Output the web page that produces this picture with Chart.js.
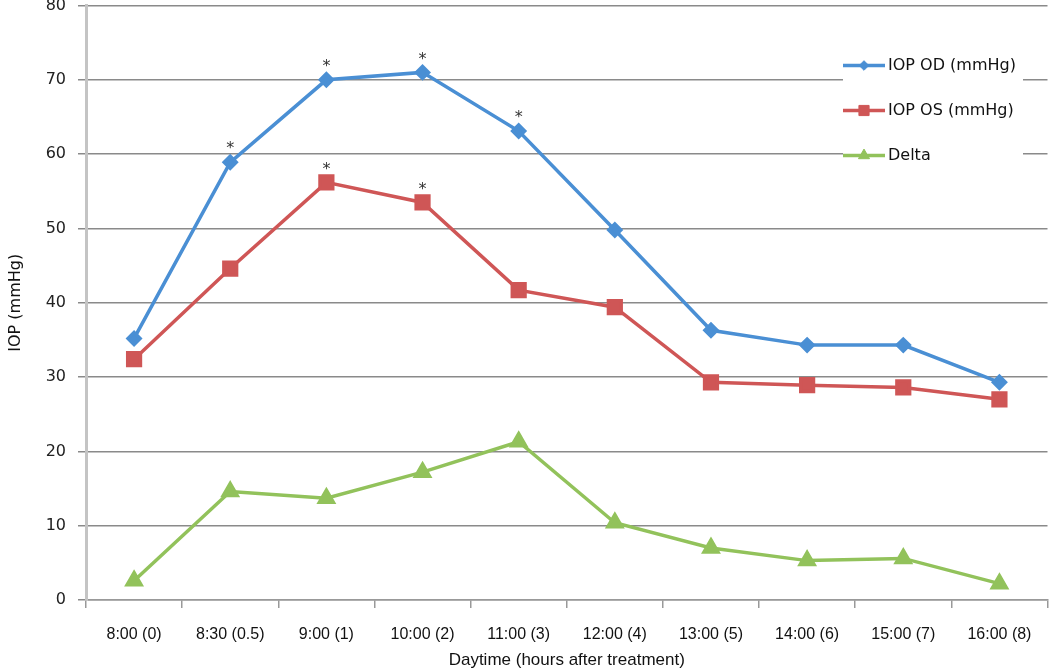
<!DOCTYPE html>
<html>
<head>
<meta charset="utf-8">
<script src="https://cdn.jsdelivr.net/npm/chart.js@4.4.0/dist/chart.umd.min.js"></script>
<style>
  html, body { margin: 0; padding: 0; background: #fff; overflow: hidden; }
  #wrap { width: 1060px; height: 678px; margin-top: -7px; }
</style>
</head>
<body>
<div id="wrap"><canvas id="iopChart"></canvas></div>
<script>
// data
const labels = ["8:00 (0)", "8:30 (0.5)", "9:00 (1)", "10:00 (2)", "11:00 (3)", "12:00 (4)", "13:00 (5)", "14:00 (6)", "15:00 (7)", "16:00 (8)"];
const iopOD = [35.2, 58.9, 70.0, 71.0, 63.1, 49.8, 36.3, 34.3, 34.3, 29.3];
const iopOS = [32.4, 44.6, 56.2, 53.5, 41.7, 39.4, 29.3, 28.9, 28.6, 27.0];
const delta = [2.6, 14.6, 13.7, 17.2, 21.3, 10.4, 7.0, 5.3, 5.6, 2.2];
// significance marks (*) per series
const starsOD = [false, true, true, true, true, false, false, false, false, false];
const starsOS = [false, false, true, true, false, false, false, false, false, false];
const yTicks = [0, 10, 20, 30, 40, 50, 60, 70, 80];

const BLUE = "#4a8fd4", RED = "#cf5656", GREEN = "#92c25b";
const narrow = "'Liberation Sans Narrow', 'Liberation Sans', sans-serif";
const wide = "'DejaVu Sans', Verdana, sans-serif";

// asterisks over significant points
const starPlugin = {
  id: "stars",
  afterDatasetsDraw(chart) {
    const ctx = chart.ctx;
    ctx.save();
    ctx.fillStyle = "#333";
    ctx.font = "16px " + wide;
    ctx.textAlign = "center";
    ctx.textBaseline = "middle";
    [[0, starsOD], [1, starsOS]].forEach(([di, flags]) => {
      const meta = chart.getDatasetMeta(di);
      flags.forEach((f, i) => {
        if (!f) return;
        const p = meta.data[i];
        ctx.fillText("*", p.x, p.y - 13);
      });
    });
    ctx.restore();
  }
};

// legend drawn inside the plot, over a white box
const legendPlugin = {
  id: "insideLegend",
  afterDatasetsDraw(chart) {
    const ctx = chart.ctx;
    const x0 = 843, y0 = chart.chartArea.top + 60, gap = 45;
    ctx.save();
    ctx.fillStyle = "#fff";
    ctx.fillRect(x0, y0 - 18, 180, gap * 2 + 36);
    chart.data.datasets.forEach((ds, i) => {
      const y = y0 + i * gap;
      ctx.strokeStyle = ds.borderColor;
      ctx.lineWidth = 3.5;
      ctx.beginPath();
      ctx.moveTo(x0, y);
      ctx.lineTo(x0 + 42, y);
      ctx.stroke();
      ctx.fillStyle = ds.backgroundColor;
      ctx.strokeStyle = ds.borderColor;
      ctx.lineWidth = 1;
      Chart.helpers.drawPoint(ctx, {
        pointStyle: ds.pointStyle,
        radius: ds.pointRadius * 0.8,
        borderWidth: 1
      }, x0 + 21, y);
      ctx.fillStyle = "#111";
      ctx.font = "16px " + wide;
      ctx.textAlign = "left";
      ctx.textBaseline = "middle";
      ctx.fillText(ds.label, x0 + 45, y);
    });
    ctx.restore();
  }
};

new Chart(document.getElementById("iopChart").getContext("2d"), {
  type: "line",
  data: {
    labels: labels,
    datasets: [
      {
        label: "IOP OD (mmHg)",
        data: iopOD,
        borderColor: BLUE,
        backgroundColor: BLUE,
        borderWidth: 3.5,
        pointStyle: "rectRot",
        pointRadius: 6
      },
      {
        label: "IOP OS (mmHg)",
        data: iopOS,
        borderColor: RED,
        backgroundColor: RED,
        borderWidth: 3.5,
        pointStyle: "rect",
        pointRadius: 9
      },
      {
        label: "Delta",
        data: delta,
        borderColor: GREEN,
        backgroundColor: GREEN,
        borderWidth: 3.5,
        pointStyle: "triangle",
        pointRadius: 8
      }
    ]
  },
  options: {
    responsive: true,
    maintainAspectRatio: false,
    animation: false,
    layout: { padding: 0 },
    plugins: {
      legend: { display: false },
      tooltip: { enabled: false }
    },
    scales: {
      x: {
        offset: true,
        grid: {
          offset: true,
          drawOnChartArea: false,
          drawTicks: true,
          tickLength: 8,
          color: "#999",
          lineWidth: 1.5
        },
        border: { color: "#999", width: 1.5 },
        ticks: {
          color: "#111",
          font: { family: narrow, size: 16 },
          maxRotation: 0,
          autoSkip: false,
          padding: 17
        },
        title: {
          display: true,
          text: "Daytime (hours after treatment)",
          color: "#111",
          font: { family: narrow, size: 17 },
          padding: { top: 0, bottom: 0 }
        },
        afterFit(scale) {
          scale.height = 71;
          scale.paddingLeft = 0;
          scale.paddingRight = 0;
        }
      },
      y: {
        min: 0,
        max: 80,
        afterBuildTicks(scale) { scale.ticks = yTicks.map(v => ({ value: v })); },
        grid: {
          color: "#8a8a8a",
          lineWidth: 1.5,
          tickLength: 8
        },
        border: { color: "#c4c4c4", width: 3 },
        ticks: {
          color: "#222",
          font: { family: wide, size: 16 },
          padding: 12
        },
        title: {
          display: true,
          text: "IOP (mmHg)",
          color: "#111",
          font: { family: wide, size: 16 },
          padding: { top: 6, bottom: 0 }
        },
        afterFit(scale) {
          scale.width = 86;
          scale.paddingTop = 0;
          scale.paddingBottom = 0;
        }
      }
    }
  },
  plugins: [starPlugin, legendPlugin]
});
</script>
</body>
</html>
